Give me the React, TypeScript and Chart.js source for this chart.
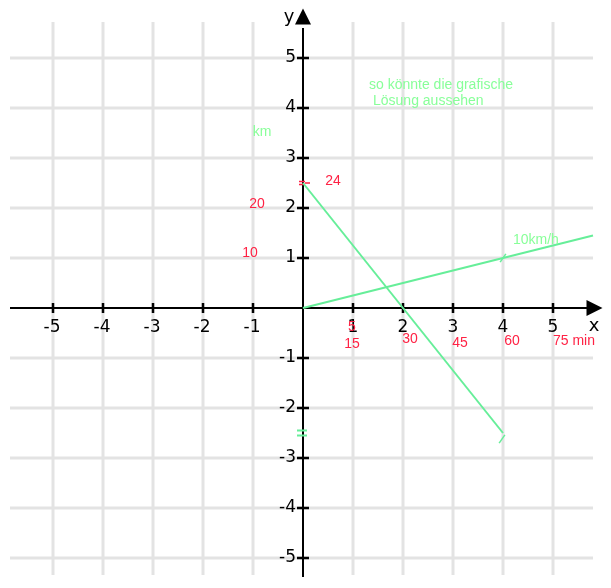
import React, { useEffect, useRef } from "react";
import { Chart, registerables } from "chart.js";

Chart.register(...registerables);

const X_MIN = -5.86;
const X_MAX = 6.0;
const Y_MIN = -5.38;
const Y_MAX = 6.0;

const tickValues = [-5, -4, -3, -2, -1, 1, 2, 3, 4, 5];

const speedLineX = [0, 5.8];
const speedLineY = [0, 1.45];
const returnLineX = [0, 4];
const returnLineY = [2.5, -2.5];

const markersX = [4, 3.98];
const markersY = [1, -2.62];

const redLabels = ["24", "20", "10", "5", "15", "30", "45", "60", "75 min"];
const redLabelX = [0.6, -0.92, -1.06, 0.98, 0.98, 2.14, 3.14, 4.18, 5.42];
const redLabelY = [2.54, 2.08, 1.1, -0.38, -0.72, -0.62, -0.7, -0.66, -0.66];

const greenLabels = ["km", "so könnte die grafische", "Lösung aussehen", "10km/h"];
const greenLabelX = [-0.82, 1.32, 1.4, 4.2];
const greenLabelY = [3.52, 4.46, 4.14, 1.36];

const LINE_GREEN = "#66ee99";
const TEXT_GREEN = "#88ff99";
const RED = "#ff2244";

const axesPlugin = {
  id: "mathAxes",
  beforeDatasetsDraw(chart: any) {
    const ctx = chart.ctx;
    const xs = chart.scales.x;
    const ys = chart.scales.y;
    const px = (v: number) => xs.getPixelForValue(v);
    const py = (v: number) => ys.getPixelForValue(v);
    ctx.save();
    // grid
    ctx.strokeStyle = "#e3e3e3";
    ctx.lineWidth = 3;
    for (const v of tickValues) {
      ctx.beginPath();
      ctx.moveTo(px(v), py(5.72));
      ctx.lineTo(px(v), py(-5.34));
      ctx.stroke();
      ctx.beginPath();
      ctx.moveTo(px(-5.86), py(v));
      ctx.lineTo(px(5.8), py(v));
      ctx.stroke();
    }
    // axes
    ctx.strokeStyle = "#000";
    ctx.lineWidth = 2;
    ctx.beginPath();
    ctx.moveTo(px(-5.86), py(0));
    ctx.lineTo(px(5.8), py(0));
    ctx.stroke();
    ctx.beginPath();
    ctx.moveTo(px(0), py(-5.38));
    ctx.lineTo(px(0), py(5.6));
    ctx.stroke();
    // arrows
    ctx.fillStyle = "#000";
    ctx.beginPath();
    ctx.moveTo(px(0), py(5.99));
    ctx.lineTo(px(0) - 8, py(5.99) + 16);
    ctx.lineTo(px(0) + 8, py(5.99) + 16);
    ctx.closePath();
    ctx.fill();
    ctx.beginPath();
    ctx.moveTo(px(5.99), py(0));
    ctx.lineTo(px(5.99) - 16, py(0) - 8);
    ctx.lineTo(px(5.99) - 16, py(0) + 8);
    ctx.closePath();
    ctx.fill();
    // ticks
    ctx.lineWidth = 2.5;
    for (const v of tickValues) {
      ctx.beginPath();
      ctx.moveTo(px(v), py(0) - 5);
      ctx.lineTo(px(v), py(0) + 5);
      ctx.stroke();
      ctx.beginPath();
      ctx.moveTo(px(0) - 6, py(v));
      ctx.lineTo(px(0) + 6, py(v));
      ctx.stroke();
    }
    // tick labels
    ctx.font = "17px 'DejaVu Sans', Verdana, sans-serif";
    ctx.fillStyle = "#000";
    ctx.textAlign = "center";
    ctx.textBaseline = "middle";
    for (const v of tickValues) {
      ctx.fillText(String(v), px(v) - (v < 0 ? 1 : 0), py(0) + 20);
    }
    ctx.textAlign = "right";
    for (const v of tickValues) {
      ctx.fillText(String(v), px(0) - 7, py(v));
    }
    ctx.font = "18px 'DejaVu Sans', Verdana, sans-serif";
    ctx.textAlign = "center";
    ctx.fillText("y", px(-0.28), py(5.82));
    ctx.fillText("x", px(5.82), py(-0.36));
    // red marker at (0, 2.5)
    ctx.lineWidth = 1.5;
    ctx.strokeStyle = RED;
    ctx.beginPath();
    ctx.moveTo(px(0) - 4, py(2.5) - 1.5);
    ctx.lineTo(px(0) + 2, py(2.5) - 1.5);
    ctx.moveTo(px(0) - 4, py(2.5) + 1.5);
    ctx.lineTo(px(0) + 2, py(2.5) + 1.5);
    ctx.moveTo(px(0) + 2, py(2.5));
    ctx.lineTo(px(0) + 7, py(2.5));
    ctx.stroke();
    // green marker at (0, -2.5)
    ctx.lineWidth = 2;
    ctx.strokeStyle = LINE_GREEN;
    ctx.beginPath();
    ctx.moveTo(px(0) - 6, py(-2.5) - 2.5);
    ctx.lineTo(px(0) + 4, py(-2.5) - 2.5);
    ctx.moveTo(px(0) - 6, py(-2.5) + 2.5);
    ctx.lineTo(px(0) + 4, py(-2.5) + 2.5);
    ctx.stroke();
    ctx.restore();
  },
  afterDatasetsDraw(chart: any) {
    const ctx = chart.ctx;
    const xs = chart.scales.x;
    const ys = chart.scales.y;
    ctx.save();
    ctx.font = "14px 'Liberation Sans', Arial, sans-serif";
    ctx.textBaseline = "middle";
    ctx.textAlign = "center";
    ctx.fillStyle = RED;
    redLabels.forEach((t, i) => {
      ctx.fillText(t, xs.getPixelForValue(redLabelX[i]), ys.getPixelForValue(redLabelY[i]));
    });
    ctx.fillStyle = TEXT_GREEN;
    greenLabels.forEach((t, i) => {
      ctx.textAlign = i === 0 ? "center" : "left";
      ctx.fillText(t, xs.getPixelForValue(greenLabelX[i]), ys.getPixelForValue(greenLabelY[i]));
    });
    ctx.restore();
  },
};

export default function App() {
  const ref = useRef<HTMLCanvasElement | null>(null);
  useEffect(() => {
    if (!ref.current) return;
    const chart = new Chart(ref.current, {
      type: "scatter",
      data: {
        datasets: [
          {
            data: speedLineX.map((x, i) => ({ x, y: speedLineY[i] })),
            showLine: true,
            borderColor: LINE_GREEN,
            borderWidth: 2,
            pointRadius: 0,
          },
          {
            data: returnLineX.map((x, i) => ({ x, y: returnLineY[i] })),
            showLine: true,
            borderColor: LINE_GREEN,
            borderWidth: 2,
            pointRadius: 0,
          },
          {
            data: markersX.map((x, i) => ({ x, y: markersY[i] })),
            showLine: false,
            pointStyle: "line",
            pointRotation: -55,
            pointRadius: 5,
            borderColor: LINE_GREEN,
            borderWidth: 1.5,
          },
        ],
      },
      plugins: [axesPlugin],
      options: {
        animation: false,
        responsive: false,
        devicePixelRatio: 1,
        layout: { padding: { left: 10, top: 8, right: 8, bottom: 11 } },
        plugins: { legend: { display: false }, tooltip: { enabled: false } },
        scales: {
          x: { type: "linear", min: X_MIN, max: X_MAX, display: false },
          y: { type: "linear", min: Y_MIN, max: Y_MAX, display: false },
        },
      },
    });
    return () => chart.destroy();
  }, []);
  return (
    <div style={{ position: "fixed", left: 0, top: 0, width: 611, height: 588, background: "#fff" }}>
      <canvas ref={ref} width={611} height={588} style={{ display: "block", width: 611, height: 588 }} />
    </div>
  );
}
